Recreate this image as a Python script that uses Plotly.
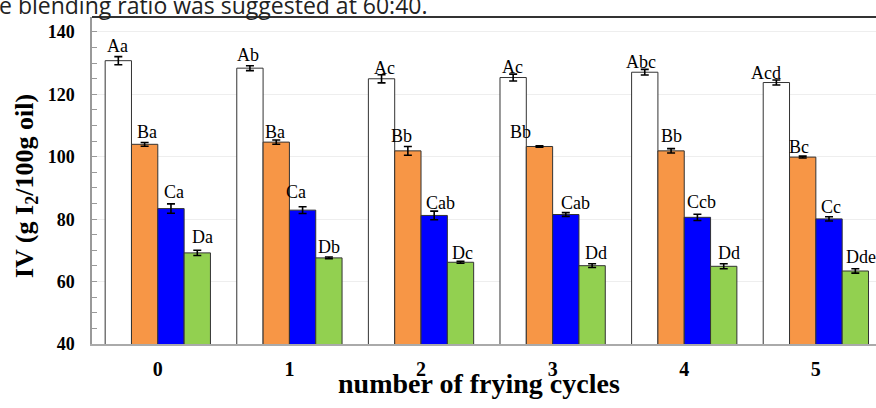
import plotly.graph_objects as go

# Frying cycles on the x axis
cycles = [0, 1, 2, 3, 4, 5]
cycle_labels = ["0", "1", "2", "3", "4", "5"]

# Iodine value (g I2/100 g oil), mean and standard deviation for each oil
iv_s1 = [130.8, 128.4, 125.0, 125.4, 127.1, 123.8]
err_s1 = [1.3, 0.8, 1.3, 1.1, 0.9, 0.8]
iv_s2 = [104.0, 104.7, 101.9, 103.3, 101.9, 99.9]
err_s2 = [0.6, 0.7, 1.4, 0.2, 0.7, 0.3]
iv_s3 = [83.4, 82.9, 81.2, 81.5, 80.6, 80.1]
err_s3 = [1.5, 1.1, 1.4, 0.6, 1.0, 0.7]
iv_s4 = [69.2, 67.6, 66.2, 65.1, 64.9, 63.4]
err_s4 = [0.85, 0.3, 0.3, 0.6, 0.8, 0.7]

# Significance letters above each bar
sig_s1 = ["Aa", "Ab", "Ac", "Ac", "Abc", "Acd"]
sig_s2 = ["Ba", "Ba", "Bb", "Bb", "Bb", "Bc"]
sig_s3 = ["Ca", "Ca", "Cab", "Cab", "Ccb", "Cc"]
sig_s4 = ["Da", "Db", "Dc", "Dd", "Dd", "Dde"]

# Label placement tweaks (pixels): horizontal nudge and gap above the error bar
label_dx = [
    [-1, -2, 3, -1, -4, -10],
    [2, -1, -6, -19, 0, -4],
    [3, -7, 6, 10, 4, 2],
    [5, 0, 2, 4, 5, 6],
]
label_gap = [
    [5, 5, 1, 1, 1, 1],
    [4, 2, 4, 8, 7, 3],
    [6, 9, 2, 4, 6, 4],
    [7, 4, 2, 5, 5, 6],
]

series = [
    (iv_s1, err_s1, sig_s1, "#FFFFFF"),
    (iv_s2, err_s2, sig_s2, "#F79646"),
    (iv_s3, err_s3, sig_s3, "#0000FF"),
    (iv_s4, err_s4, sig_s4, "#92D050"),
]

SERIF = "Liberation Serif, Times New Roman, serif"
BARGAP = 0.2
n_series = len(series)
bar_w = (1 - BARGAP) / n_series

fig = go.Figure()
annotations = []
for k, (vals, errs, sigs, color) in enumerate(series):
    fig.add_trace(go.Bar(
        x=cycles, y=vals,
        marker=dict(color=color, line=dict(color="#333333", width=1)),
        error_y=dict(type="data", array=errs, visible=True,
                     color="#000000", thickness=1.6, width=4),
        showlegend=False,
        hoverinfo="skip",
    ))
    offset = (k - (n_series - 1) / 2) * bar_w
    for i, (c, v, e, s) in enumerate(zip(cycles, vals, errs, sigs)):
        annotations.append(dict(
            x=c + offset, y=v + e, xref="x", yref="y",
            text=s, showarrow=False,
            xanchor="center", yanchor="bottom",
            xshift=label_dx[k][i], yshift=label_gap[k][i] - 6,
            font=dict(family=SERIF, size=18, color="#000000"),
        ))

# Axis titles
annotations.append(dict(
    text="IV (g I<sub>2</sub>/100g oil)", textangle=-90,
    xref="paper", yref="paper", x=0, y=0.483,
    xanchor="center", yanchor="middle", xshift=-66, showarrow=False,
    font=dict(family=SERIF, size=26, color="#000000", weight="bold"),
))
annotations.append(dict(
    text="number of frying cycles",
    xref="paper", yref="paper", x=0.4935, y=0,
    xanchor="center", yanchor="middle", yshift=-39, showarrow=False,
    font=dict(family=SERIF, size=28, color="#000000", weight="bold"),
))
# Running text of the surrounding page
annotations.append(dict(
    text="e blending ratio was suggested at 60:40.",
    xref="paper", yref="paper", x=0, y=1,
    xanchor="left", yanchor="bottom", xshift=-95, yshift=-6, showarrow=False,
    font=dict(family="Open Sans, sans-serif", size=23, color="#222222"),
))

fig.update_layout(
    width=876, height=408,
    margin=dict(l=92, r=0, t=17, b=64),
    paper_bgcolor="#FFFFFF", plot_bgcolor="#FFFFFF",
    barmode="group", bargap=BARGAP, bargroupgap=0,
    annotations=annotations,
    shapes=[dict(type="line", xref="paper", yref="paper",
                 x0=0, x1=1, y0=1, y1=1,
                 line=dict(color="#333333", width=2))],
    xaxis=dict(
        range=[-0.5, 5.457], tickmode="array",
        tickvals=cycles, ticktext=cycle_labels,
        showgrid=False, zeroline=False, ticks="",
        showline=True, linecolor="#AAAAAA", linewidth=2,
        ticklabelstandoff=6,
        tickfont=dict(family=SERIF, size=20, color="#000000", weight="bold"),
    ),
    yaxis=dict(
        range=[40, 144.8], tickmode="array",
        tickvals=[40, 60, 80, 100, 120, 140],
        showgrid=True, gridcolor="#EEEEEE", gridwidth=1, zeroline=False,
        ticks="inside", ticklen=5, tickcolor="#999999",
        minor=dict(dtick=5, ticks="inside", ticklen=5, tickcolor="#999999",
                   showgrid=False),
        showline=True, linecolor="#999999", linewidth=1.5,
        ticklabelstandoff=12,
        tickfont=dict(family=SERIF, size=18, color="#000000", weight="bold"),
    ),
)

fig.write_html("out.html")
